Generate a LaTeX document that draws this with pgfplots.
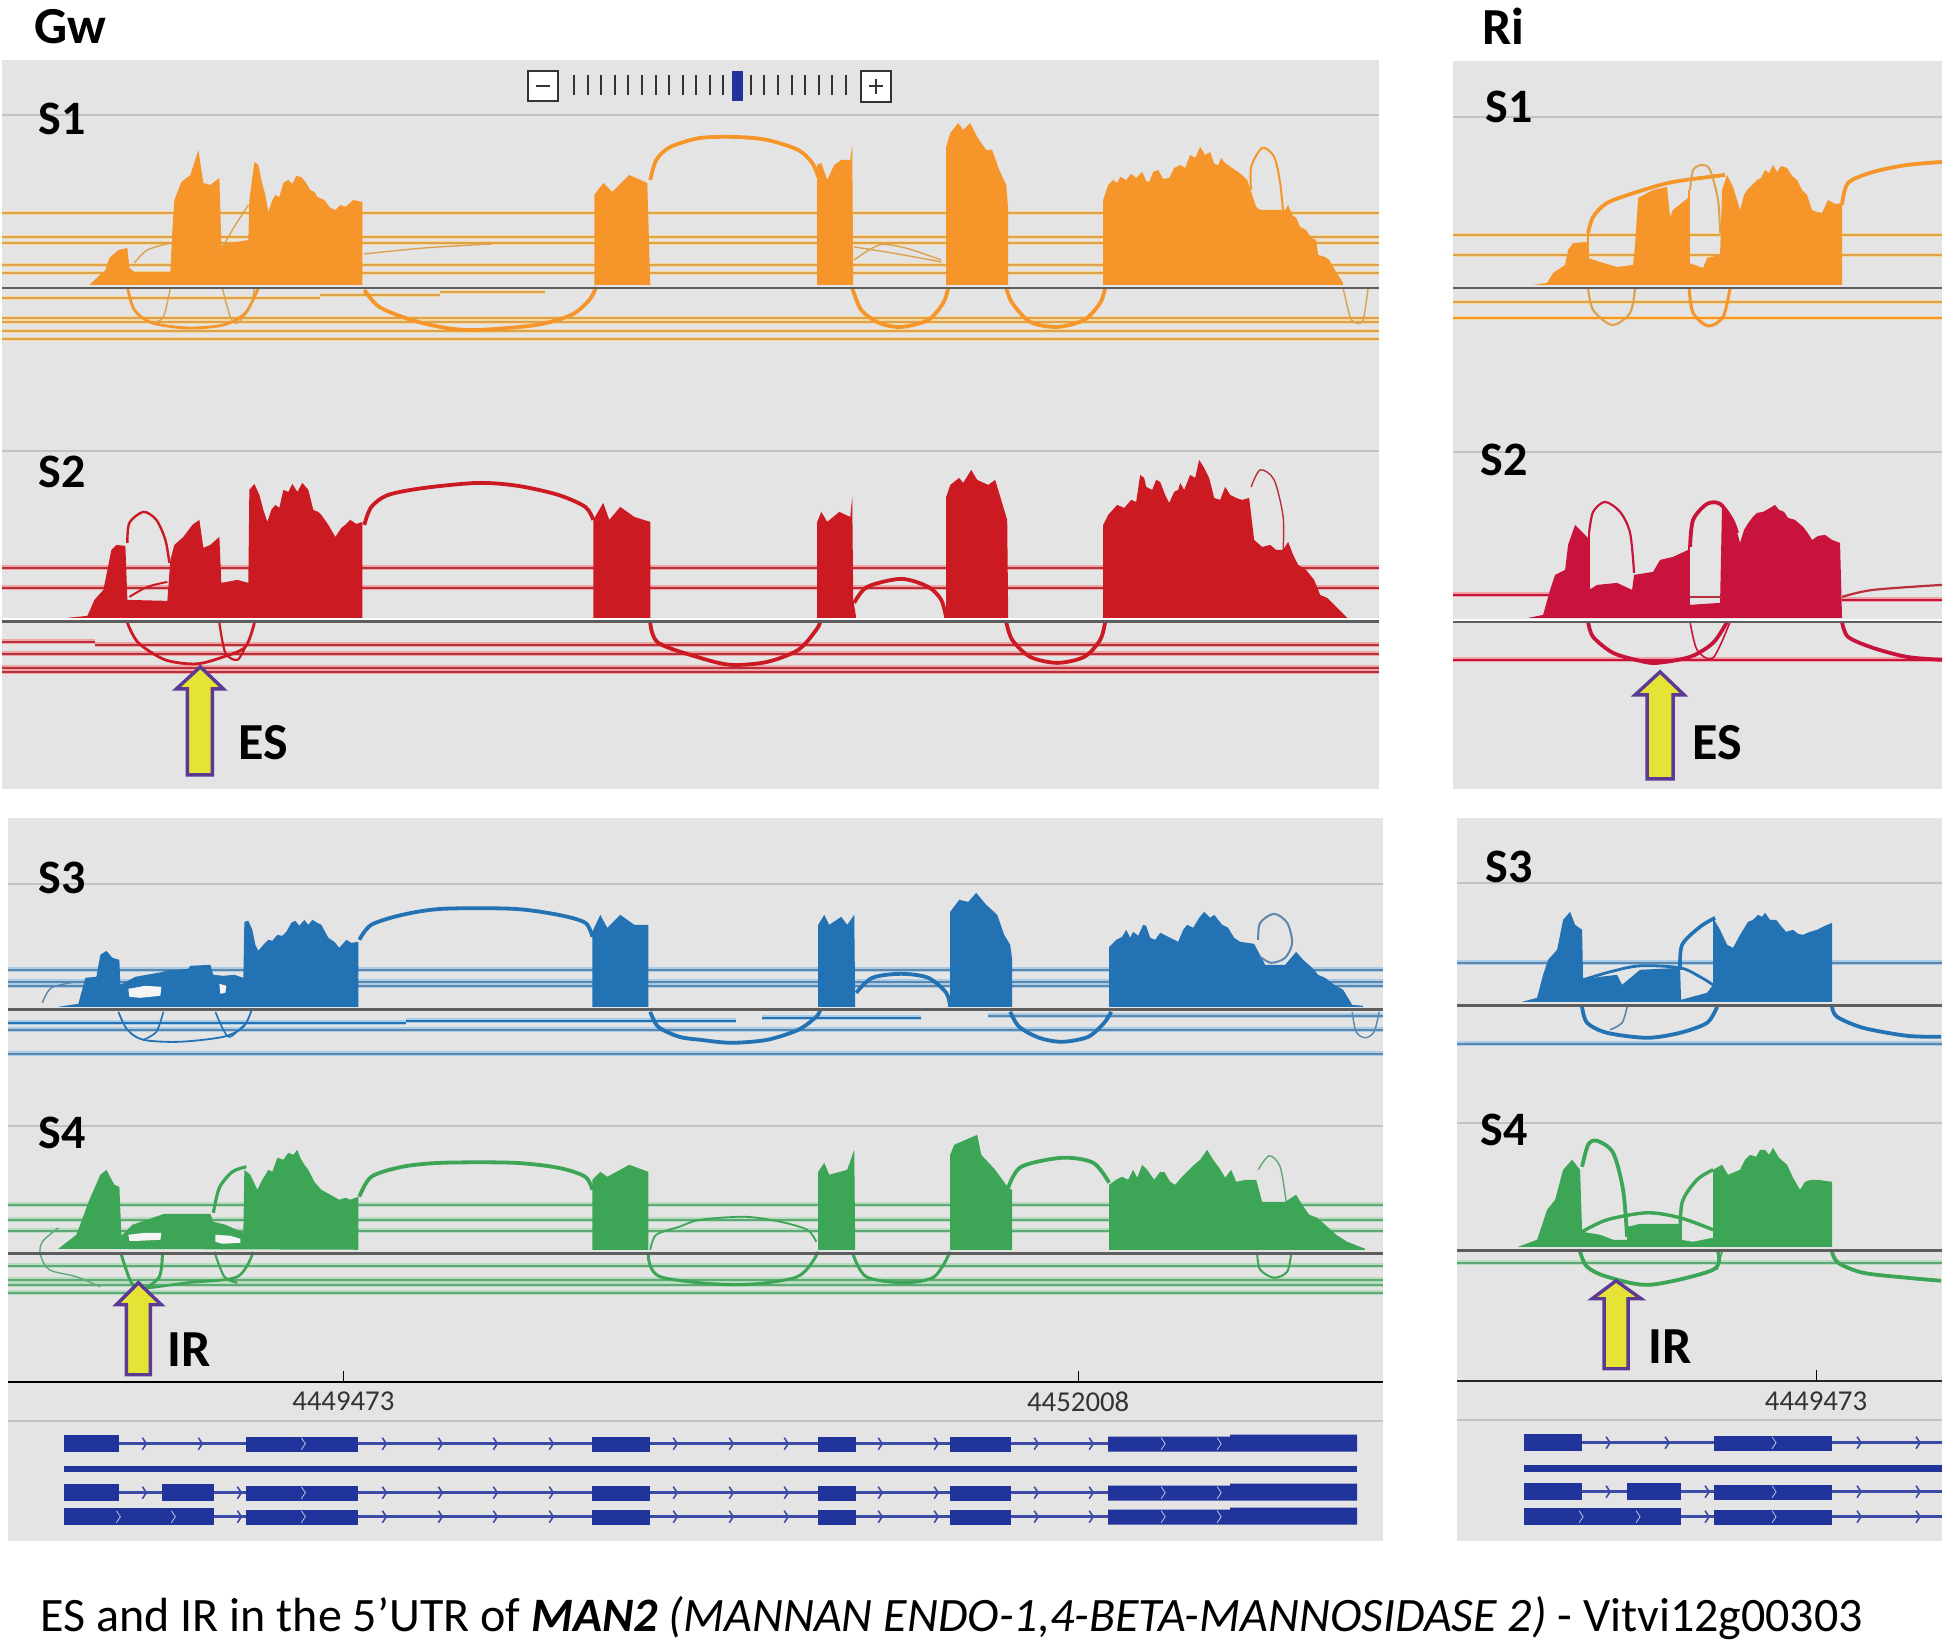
\documentclass[border=0pt]{standalone}
\usepackage{pgfplots}
\usepackage{fontspec}
\setmainfont{Carlito}
\pgfplotsset{compat=1.18}
\definecolor{pbg}{HTML}{E4E4E4}
\definecolor{holec}{HTML}{F4F4F4}
\definecolor{sepc}{HTML}{C2C2C2}
\definecolor{base}{HTML}{5E5E5E}
\definecolor{oc}{HTML}{F5952A}
\definecolor{ol}{HTML}{F6D79E}
\definecolor{od}{HTML}{DDA24E}
\definecolor{rc}{HTML}{CC1A22}
\definecolor{rl}{HTML}{EFA5A5}
\definecolor{rd}{HTML}{B8303C}
\definecolor{cc}{HTML}{C8143C}
\definecolor{bc}{HTML}{2272B4}
\definecolor{bl}{HTML}{A9CCE8}
\definecolor{bd}{HTML}{5C86AC}
\definecolor{gc}{HTML}{3DA556}
\definecolor{gl}{HTML}{B8DDBE}
\definecolor{gd}{HTML}{5FA877}
\definecolor{ex}{HTML}{20349C}
\definecolor{intr}{HTML}{3E4AA8}
\definecolor{arrf}{HTML}{E6E337}
\definecolor{arrd}{HTML}{5B3A94}
\pgfdeclareplotmark{chev}{\pgfpathmoveto{\pgfqpoint{-1pt}{3pt}}\pgfpathlineto{\pgfqpoint{1pt}{0pt}}\pgfpathlineto{\pgfqpoint{-1pt}{-3pt}}\pgfusepathqstroke}
\newcommand{\cov}[2]{\addplot[fill=#1,draw=none] coordinates {#2} -- cycle;}
\newcommand{\jn}[3]{\addplot[#1,line width=#2,smooth] coordinates {#3};}
\newcommand{\hl}[5]{\addplot[#1,line width=2.4pt] coordinates {(#4,#3)(#5,#3)};\addplot[#2,line width=1.1pt] coordinates {(#4,#3)(#5,#3)};}
\newcommand{\seg}[4]{\addplot[#1,line width=#2] coordinates {(#3)(#4)};}
\begin{document}
\begin{tikzpicture}
\begin{axis}[at={(0,0)},anchor=south west,scale only axis,width=976.5pt,height=822pt,
 xmin=0,xmax=1953,ymin=0,ymax=1644,y dir=reverse,hide axis,clip=false]
% page and panels
\cov{white}{(0,0)(1953,0)(1953,1644)(0,1644)}
\cov{pbg}{(2,60)(1379,60)(1379,789)(2,789)}
\cov{pbg}{(1453,61)(1942,61)(1942,789)(1453,789)}
\cov{pbg}{(8,818)(1383,818)(1383,1541)(8,1541)}
\cov{pbg}{(1457,818)(1942,818)(1942,1541)(1457,1541)}
% separators
\seg{sepc}{1.2pt}{2,115}{1379,115}
\seg{sepc}{1.2pt}{2,451}{1379,451}
\seg{sepc}{1.2pt}{8,884}{1383,884}
\seg{sepc}{1.2pt}{8,1126}{1383,1126}
\seg{sepc}{1.2pt}{8,1421}{1383,1421}
\seg{sepc}{1.2pt}{1453,117}{1942,117}
\seg{sepc}{1.2pt}{1453,452}{1942,452}
\seg{sepc}{1.2pt}{1457,883}{1942,883}
\seg{sepc}{1.2pt}{1457,1123}{1942,1123}
\seg{sepc}{1.2pt}{1457,1420}{1942,1420}
% zoom widget
\addplot[fill=white,draw=black!80,line width=1pt] coordinates {(528,71)(558,71)(558,101)(528,101)} -- cycle;
\addplot[fill=white,draw=black!80,line width=1pt] coordinates {(861,71)(891,71)(891,102)(861,102)} -- cycle;
\seg{black!80}{0.9pt}{536,86}{550,86}
\seg{black!80}{0.9pt}{869,86}{883,86}
\seg{black!80}{0.9pt}{876,79}{876,94}
\addplot[only marks,mark=|,mark size=5pt,mark options={draw=black!80,line width=0.9pt}] coordinates {(574,85)(588,85)(601,85)(615,85)(628,85)(642,85)(656,85)(669,85)(683,85)(696,85)(710,85)(723,85)(751,85)(764,85)(778,85)(792,85)(805,85)(819,85)(832,85)(846,85)};
\cov{ex}{(732,71)(743,71)(743,101)(732,101)}
% ---------- Gw S1 ----------
\hl{ol}{od}{213}{2}{1379}\hl{ol}{od}{237}{2}{1379}\hl{ol}{od}{243}{2}{1379}\hl{ol}{od}{265}{2}{1379}\hl{ol}{od}{273}{2}{1379}
\hl{ol}{od}{298}{2}{320}\hl{ol}{od}{295}{320}{440}\hl{ol}{od}{292}{440}{545}\hl{ol}{od}{318}{2}{1379}\hl{ol}{od}{322}{2}{1379}\hl{ol}{od}{331}{2}{1379}\hl{ol}{od}{339}{2}{1379}
\cov{oc}{(89,285)(105,270)(109,258)(118,250)(127,248)(129,268)(134,272)(170,272)(172,230)(174,200)(181,182)(190,175)(198,150)(203,183)(210,185)(219,178)(221,245)(248,240)(249,200)(254,162)(258,165)(261,180)(265,195)(268,212)(272,200)(275,195)(279,197)(283,183)(288,180)(292,184)(296,176)(301,177)(305,182)(310,190)(314,192)(317,197)(324,200)(330,208)(335,210)(340,205)(345,207)(353,200)(362,202)(362,285)}
\cov{oc}{(594,285)(594,195)(603,183)(612,192)(629,175)(647,183)(650,285)}
\cov{oc}{(817,285)(817,165)(821,163)(827,180)(834,165)(841,160)(850,160)(852,145)(853,285)}
\cov{oc}{(946,285)(946,147)(950,133)(958,123)(963,130)(970,123)(977,137)(986,150)(992,150)(999,170)(1006,185)(1008,210)(1008,285)}
\cov{oc}{(1103,285)(1103,200)(1108,185)(1113,180)(1117,183)(1120,177)(1126,180)(1131,174)(1136,178)(1142,172)(1146,181)(1149,182)(1153,172)(1158,170)(1163,179)(1169,178)(1174,168)(1180,165)(1185,168)(1190,155)(1195,158)(1200,147)(1205,155)(1210,152)(1214,164)(1218,165)(1221,158)(1225,163)(1232,168)(1238,172)(1243,176)(1247,180)(1252,195)(1256,207)(1260,210)(1285,210)(1288,205)(1292,215)(1296,218)(1300,227)(1306,230)(1311,238)(1316,240)(1318,255)(1325,257)(1329,260)(1336,272)(1343,283)(1343,285)}
\jn{oc}{1.9pt}{(650,180)(656,160)(670,147)(700,138)(736,137)(767,140)(798,150)(812,163)(818,177)}
\jn{oc}{1.9pt}{(364,290)(379,307)(411,320)(446,328)(478,330)(536,325)(571,315)(589,300)(596,287)}
\jn{oc}{1.4pt}{(127,287)(134,310)(152,323)(187,328)(223,325)(245,313)(258,288)}
\jn{od}{0.7pt}{(170,288)(163,317)(152,323)}
\jn{od}{0.7pt}{(222,288)(230,317)(237,323)(250,307)(254,288)}
\jn{od}{0.7pt}{(134,263)(147,250)(170,243)}
\jn{od}{0.7pt}{(221,250)(232,230)(248,205)}
\jn{od}{0.7pt}{(364,254)(424,248)(491,244)}
\jn{od}{0.7pt}{(854,260)(879,245)(905,248)(941,260)}
\jn{od}{0.7pt}{(854,247)(892,253)(941,262)}
\jn{oc}{1.9pt}{(852,288)(861,310)(879,323)(901,327)(928,320)(943,303)(948,288)}
\jn{oc}{1.9pt}{(1006,288)(1012,303)(1030,322)(1057,327)(1084,320)(1100,303)(1105,288)}
\jn{od}{0.7pt}{(1343,288)(1350,317)(1356,323)(1363,320)(1368,288)}
\jn{oc}{1pt}{(1251,190)(1251,167)(1262,148)(1274,157)(1280,183)(1283,213)}
\seg{base}{1.4pt}{2,288}{1379,288}
% ---------- Gw S2 ----------
\hl{rl}{rd}{568}{2}{1379}\hl{rl}{rd}{588}{2}{1379}
\hl{rl}{rd}{642}{2}{95}\hl{rl}{rd}{645}{95}{1379}\hl{rl}{rd}{654}{2}{1379}\hl{rl}{rd}{668}{2}{1379}\hl{rl}{rd}{672}{2}{1379}
\seg{white}{1.5pt}{2,620}{1379,620}
\cov{rc}{(67,618)(87,616)(94,600)(103,590)(107,570)(111,550)(116,545)(125,546)(127,600)(167,601)(170,560)(174,545)(183,537)(192,525)(199,520)(203,548)(210,545)(219,537)(221,583)(237,580)(248,583)(249,490)(254,484)(259,495)(263,510)(267,522)(271,510)(275,505)(279,508)(283,490)(288,492)(292,484)(297,492)(302,483)(308,490)(313,510)(318,512)(321,515)(328,525)(335,537)(341,528)(345,525)(350,520)(356,524)(362,522)(362,618)}
\cov{rc}{(593,618)(593,520)(603,503)(609,520)(620,507)(634,517)(650,522)(650,618)}
\cov{rc}{(817,618)(817,522)(821,512)(827,522)(839,512)(850,517)(852,497)(853,600)(856,618)}
\cov{rc}{(946,618)(946,497)(950,485)(959,478)(963,483)(971,470)(977,480)(988,485)(995,480)(1001,500)(1007,520)(1008,618)}
\cov{rc}{(1103,618)(1103,525)(1108,515)(1117,505)(1124,508)(1131,500)(1136,502)(1140,475)(1144,478)(1146,487)(1152,490)(1156,480)(1160,482)(1165,495)(1169,503)(1174,492)(1178,490)(1180,483)(1184,490)(1190,475)(1195,478)(1199,460)(1204,468)(1209,478)(1214,498)(1220,500)(1225,487)(1230,495)(1236,498)(1242,500)(1249,498)(1254,540)(1262,547)(1270,545)(1276,550)(1283,550)(1288,542)(1293,555)(1298,565)(1306,570)(1314,580)(1320,595)(1327,598)(1334,605)(1347,618)}
\jn{rc}{1.9pt}{(364,525)(371,507)(388,495)(424,488)(478,483)(518,486)(558,495)(585,507)(593,520)}
\jn{rc}{1.2pt}{(127,543)(129,523)(143,512)(156,520)(165,540)(169,563)}
\jn{rc}{1pt}{(129,597)(147,587)(167,582)}
\jn{rc}{1.4pt}{(127,623)(138,643)(165,660)(196,664)(223,657)(245,647)(254,623)}
\jn{rc}{1.1pt}{(219,623)(225,653)(237,660)(245,647)}
\jn{rc}{1.9pt}{(650,623)(658,643)(700,658)(731,665)(767,662)(798,650)(816,630)(820,622)}
\jn{rc}{1.9pt}{(854,603)(867,587)(901,579)(928,587)(941,600)(946,618)}
\jn{rc}{1.9pt}{(1006,622)(1012,640)(1030,657)(1057,663)(1084,657)(1100,640)(1105,622)}
\jn{rd}{0.7pt}{(1251,487)(1260,470)(1274,480)(1283,517)(1283,550)}
\seg{base}{1.4pt}{2,622}{1379,622}
% ---------- Gw S3 ----------
\hl{bl}{bd}{970}{8}{1383}\hl{bl}{bd}{982}{8}{1383}\hl{bl}{bd}{986}{8}{1383}
\hl{bl}{bc}{1023}{8}{406}\hl{bl}{bc}{1021}{406}{736}\hl{bl}{bc}{1018}{762}{921}\hl{bl}{bd}{1016}{988}{1383}\hl{bl}{bd}{1030}{8}{1383}\hl{bl}{bd}{1054}{8}{1383}
\cov{bc}{(58,1007)(78,1004)(85,978)(96,977)(100,955)(106,951)(112,958)(119,960)(120,985)(135,977)(163,972)(164,971)(188,969)(190,966)(210,965)(213,975)(223,976)(234,975)(243,978)(244,922)(248,921)(252,930)(255,945)(258,951)(263,945)(268,940)(272,941)(277,935)(282,936)(286,932)(291,923)(295,921)(299,926)(304,920)(308,925)(312,920)(317,923)(321,925)(328,938)(334,942)(339,948)(346,940)(351,943)(358,942)(358,1007)}
\cov{holec}{(128,989)(145,986)(161,987)(160,996)(140,998)(129,997)}
\cov{holec}{(219,984)(226,986)(225,993)(220,994)}
\cov{bc}{(592,1007)(592,932)(600,915)(607,928)(620,915)(634,925)(648,925)(648,1007)}
\cov{bc}{(818,1007)(818,925)(824,915)(829,925)(841,917)(847,925)(854,915)(855,1007)}
\cov{bc}{(950,1007)(950,912)(959,900)(968,902)(976,893)(986,905)(997,915)(1004,935)(1010,945)(1012,960)(1012,1007)}
\cov{bc}{(1109,1007)(1109,947)(1116,940)(1122,937)(1126,930)(1130,938)(1133,932)(1138,936)(1143,925)(1146,926)(1150,938)(1155,940)(1160,933)(1164,935)(1170,938)(1178,942)(1183,930)(1187,925)(1193,928)(1199,918)(1204,912)(1210,918)(1214,915)(1222,925)(1228,928)(1234,938)(1240,942)(1254,944)(1265,965)(1285,965)(1296,952)(1303,960)(1312,968)(1318,975)(1325,978)(1334,985)(1343,990)(1352,1005)(1363,1006)(1363,1007)}
\jn{bc}{1.9pt}{(359,940)(371,925)(402,915)(442,909)(513,909)(558,915)(585,923)(592,937)}
\jn{bc}{1.9pt}{(856,993)(872,978)(901,974)(928,978)(946,993)(950,1007)}
\jn{bd}{0.7pt}{(42,1003)(51,988)(76,982)}
\jn{bc}{0.9pt}{(118,1012)(127,1030)(143,1040)(179,1042)(223,1037)(243,1027)(251,1011)}
\jn{bc}{0.8pt}{(163,1012)(156,1032)(143,1040)}
\jn{bc}{0.8pt}{(215,1012)(223,1030)(230,1037)(246,1023)}
\jn{bc}{1.9pt}{(650,1012)(658,1027)(679,1037)(700,1040)(731,1043)(767,1040)(798,1030)(816,1017)(820,1010)}
\jn{bc}{1.9pt}{(1010,1012)(1019,1027)(1039,1038)(1062,1042)(1088,1037)(1104,1023)(1111,1012)}
\jn{bd}{1pt}{(1258,940)(1260,923)(1274,914)(1287,923)(1292,943)(1285,958)(1271,963)(1260,957)}
\jn{bd}{0.7pt}{(1352,1012)(1356,1032)(1365,1038)(1374,1032)(1379,1012)}
\seg{base}{1.4pt}{8,1010}{1383,1010}
% ---------- Gw S4 ----------
\hl{gl}{gd}{1205}{8}{1383}\hl{gl}{gd}{1220}{8}{1383}\hl{gl}{gd}{1231}{8}{1383}\hl{gl}{gd}{1266}{8}{1383}\hl{gl}{gd}{1280}{8}{1383}\hl{gl}{gd}{1285}{8}{1383}\hl{gl}{gd}{1293}{8}{1383}
\cov{gc}{(58,1249)(76,1235)(89,1200)(100,1175)(106,1170)(114,1185)(119,1187)(121,1236)(132,1225)(164,1214)(210,1214)(213,1222)(225,1225)(243,1233)(244,1170)(250,1175)(257,1190)(262,1180)(268,1170)(272,1172)(277,1158)(283,1160)(288,1153)(293,1155)(297,1150)(300,1158)(304,1165)(308,1170)(314,1182)(321,1190)(330,1195)(339,1200)(345,1198)(350,1200)(358,1197)(358,1250)}
\cov{holec}{(128,1235)(145,1233)(161,1233)(160,1240)(140,1241)(129,1241)}
\cov{holec}{(215,1235)(230,1236)(240,1239)(240,1243)(222,1244)(215,1242)}
\cov{gc}{(592,1250)(592,1180)(600,1172)(607,1177)(629,1165)(648,1172)(648,1250)}
\cov{gc}{(818,1250)(818,1172)(824,1163)(829,1175)(847,1170)(854,1150)(855,1250)}
\cov{gc}{(950,1250)(950,1155)(954,1145)(977,1135)(981,1155)(995,1170)(1008,1188)(1012,1190)(1012,1250)}
\cov{gc}{(1109,1250)(1109,1185)(1116,1180)(1122,1177)(1128,1180)(1133,1170)(1137,1178)(1142,1165)(1147,1170)(1154,1180)(1160,1172)(1164,1172)(1170,1182)(1175,1185)(1181,1178)(1187,1172)(1194,1165)(1200,1160)(1207,1150)(1213,1160)(1219,1168)(1225,1178)(1231,1170)(1236,1182)(1246,1180)(1256,1180)(1262,1202)(1285,1202)(1296,1195)(1302,1205)(1309,1215)(1317,1218)(1325,1225)(1336,1235)(1347,1242)(1365,1249)(1365,1250)}
\jn{gc}{1.9pt}{(359,1197)(371,1177)(402,1167)(442,1163)(513,1163)(558,1168)(585,1177)(592,1190)}
\jn{gc}{1.6pt}{(213,1213)(219,1188)(232,1172)(246,1167)}
\jn{gd}{0.7pt}{(58,1228)(42,1242)(40,1255)(49,1270)(76,1277)(100,1287)}
\jn{gc}{1.5pt}{(121,1255)(131,1283)(143,1289)(159,1277)(162,1255)}
\jn{gc}{1.3pt}{(143,1289)(187,1283)(237,1277)(253,1252)}
\jn{gc}{1.1pt}{(214,1252)(224,1277)(237,1283)}
\jn{gc}{1.5pt}{(648,1255)(660,1277)(735,1285)(797,1277)(818,1252)}
\jn{gc}{0.9pt}{(650,1250)(656,1235)(679,1227)(700,1220)(745,1217)(780,1222)(807,1230)(816,1242)}
\jn{gc}{1.5pt}{(853,1255)(866,1277)(903,1283)(934,1277)(950,1252)}
\jn{gc}{1.9pt}{(1008,1188)(1021,1167)(1062,1158)(1093,1163)(1109,1183)}
\jn{gd}{0.7pt}{(1258,1170)(1269,1156)(1280,1167)(1286,1202)}
\jn{gc}{1pt}{(1257,1254)(1260,1270)(1274,1278)(1287,1272)(1291,1254)}
\seg{base}{1.4pt}{8,1254}{1383,1254}
% ---------- Ri S1 ----------
\hl{ol}{od}{235}{1453}{1942}\hl{ol}{od}{255}{1453}{1942}\hl{ol}{od}{302}{1453}{1942}\hl{ol}{oc}{318}{1453}{1942}
\cov{oc}{(1533,285)(1547,283)(1553,273)(1565,265)(1568,250)(1573,243)(1587,242)(1588,258)(1600,262)(1617,267)(1633,265)(1635,245)(1638,198)(1653,190)(1667,187)(1670,217)(1673,210)(1688,198)(1689,263)(1703,268)(1707,258)(1720,255)(1722,190)(1727,175)(1733,187)(1740,210)(1744,195)(1747,190)(1752,185)(1757,180)(1761,178)(1765,170)(1769,173)(1773,165)(1777,172)(1781,166)(1787,168)(1792,176)(1797,180)(1802,190)(1807,195)(1812,210)(1817,212)(1822,213)(1828,200)(1835,204)(1842,203)(1842,285)}
\jn{oc}{1.9pt}{(1588,233)(1593,217)(1607,203)(1637,192)(1673,182)(1725,175)}
\jn{oc}{1.9pt}{(1842,205)(1848,183)(1873,172)(1907,165)(1942,162)}
\jn{od}{1pt}{(1690,190)(1693,170)(1702,165)(1710,170)(1718,200)(1720,233)}
\seg{oc}{1.4pt}{1689,190}{1689,263}
\seg{oc}{1.4pt}{1588,233}{1588,258}
\jn{od}{1.1pt}{(1588,288)(1593,310)(1612,325)(1630,313)(1635,288)}
\jn{oc}{1.5pt}{(1689,288)(1693,313)(1708,326)(1723,317)(1730,288)}
\seg{base}{1.4pt}{1453,288}{1942,288}
% ---------- Ri S2 ----------
\hl{rl}{cc}{595}{1453}{1550}\hl{rl}{cc}{660}{1453}{1942}\hl{rl}{cc}{600}{1842}{1942}
\seg{white}{1.2pt}{1453,620}{1942,620}
\cov{cc}{(1528,618)(1543,615)(1550,590)(1555,575)(1565,570)(1568,545)(1575,525)(1580,530)(1588,538)(1589,590)(1597,585)(1617,583)(1632,590)(1634,575)(1653,572)(1660,560)(1673,557)(1688,550)(1689,605)(1720,603)(1722,505)(1730,515)(1735,525)(1740,543)(1744,530)(1747,525)(1752,518)(1757,513)(1763,512)(1770,508)(1775,505)(1779,510)(1784,512)(1788,518)(1795,520)(1803,527)(1807,532)(1812,540)(1818,536)(1825,535)(1832,540)(1840,543)(1842,618)}
\jn{cc}{1.1pt}{(1589,533)(1593,512)(1605,502)(1620,512)(1630,533)(1634,573)}
\jn{cc}{1.9pt}{(1690,547)(1693,520)(1707,504)(1720,504)(1732,520)(1737,533)}
\seg{cc}{1.4pt}{1589,533}{1589,590}
\seg{cc}{1.4pt}{1689,547}{1689,605}
\seg{rd}{0.8pt}{1689,597}{1722,597}
\jn{cc}{1.9pt}{(1588,622)(1593,637)(1613,653)(1640,661)(1657,663)(1690,657)(1713,643)(1727,622)}
\jn{cc}{0.8pt}{(1690,622)(1697,650)(1713,658)(1730,622)}
\jn{cc}{1.9pt}{(1842,622)(1848,637)(1873,648)(1907,657)(1942,660)}
\jn{rd}{1.1pt}{(1842,597)(1873,590)(1942,585)}
\seg{base}{1.2pt}{1453,622}{1942,622}
% ---------- Ri S3 ----------
\hl{bl}{bd}{963}{1457}{1942}\hl{bl}{bd}{1044}{1457}{1942}
\cov{bc}{(1522,1002)(1537,998)(1543,975)(1548,960)(1557,950)(1563,920)(1570,912)(1575,925)(1582,930)(1583,980)(1600,977)(1617,975)(1622,985)(1640,970)(1680,968)(1681,1000)(1707,993)(1713,985)(1713,918)(1720,930)(1727,945)(1733,948)(1740,935)(1748,922)(1753,920)(1758,915)(1762,917)(1765,913)(1770,920)(1776,920)(1780,925)(1786,932)(1793,930)(1798,934)(1803,935)(1810,932)(1817,930)(1825,926)(1832,923)(1832,1002)}
\jn{bc}{1.8pt}{(1680,970)(1682,945)(1700,927)(1715,918)}
\jn{bc}{1.4pt}{(1583,980)(1610,972)(1640,966)(1680,968)(1700,977)(1713,985)}
\jn{bc}{1.9pt}{(1582,1007)(1587,1023)(1607,1033)(1647,1038)(1680,1033)(1707,1023)(1717,1007)}
\jn{bd}{0.8pt}{(1627,1007)(1622,1023)(1610,1030)}
\jn{bc}{1.9pt}{(1832,1007)(1837,1017)(1863,1028)(1907,1036)(1941,1037)}
\seg{base}{1.4pt}{1457,1006}{1942,1006}
% ---------- Ri S4 ----------
\hl{gl}{gd}{1263}{1457}{1942}
\cov{gc}{(1518,1247)(1537,1240)(1547,1210)(1555,1200)(1563,1170)(1572,1160)(1580,1170)(1582,1232)(1600,1235)(1613,1240)(1627,1240)(1628,1227)(1640,1224)(1680,1224)(1681,1240)(1693,1242)(1713,1238)(1713,1170)(1722,1165)(1728,1175)(1740,1170)(1745,1160)(1750,1155)(1756,1157)(1760,1150)(1765,1150)(1769,1155)(1773,1148)(1779,1158)(1787,1165)(1793,1178)(1800,1190)(1805,1182)(1811,1180)(1817,1180)(1832,1182)(1832,1247)}
\jn{gc}{1.9pt}{(1582,1167)(1588,1145)(1597,1141)(1613,1153)(1623,1190)(1627,1237)}
\jn{gc}{1.7pt}{(1582,1232)(1607,1220)(1647,1213)(1680,1218)(1713,1230)}
\jn{gc}{1.7pt}{(1680,1243)(1682,1203)(1697,1180)(1713,1170)}
\jn{gc}{1.9pt}{(1580,1252)(1587,1267)(1607,1277)(1650,1285)(1713,1270)(1718,1252)}
\jn{gc}{0.8pt}{(1722,1252)(1717,1270)}
\jn{gc}{1.9pt}{(1832,1252)(1838,1263)(1863,1273)(1907,1278)(1941,1281)}
\seg{base}{1.4pt}{1457,1251}{1942,1251}
% ---------- arrows ----------
\addplot[fill=arrf,draw=arrd,line width=1.7pt,line join=miter] coordinates {(200,667)(223,689)(212,689)(212,775)(187,775)(187,689)(176,689)} -- cycle;
\addplot[fill=arrf,draw=arrd,line width=1.7pt,line join=miter] coordinates {(1660,672)(1684,695)(1673,695)(1673,779)(1647,779)(1647,695)(1635,695)} -- cycle;
\addplot[fill=arrf,draw=arrd,line width=1.7pt,line join=miter] coordinates {(138,1283)(161,1305)(150,1305)(150,1375)(126,1375)(126,1305)(116,1305)} -- cycle;
\addplot[fill=arrf,draw=arrd,line width=1.7pt,line join=miter] coordinates {(1616,1281)(1641,1299)(1628,1299)(1628,1369)(1604,1369)(1604,1299)(1592,1299)} -- cycle;
% ---------- position axes ----------
\seg{black}{1.1pt}{8,1382}{1383,1382}
\seg{black}{0.5pt}{343,1371}{343,1382}
\seg{black}{0.5pt}{1078,1371}{1078,1382}
\seg{black!85}{1.1pt}{1457,1381}{1942,1381}
\seg{black}{0.5pt}{1816,1370}{1816,1381}
% ---------- Gw gene models ----------
\seg{intr}{1.4pt}{64,1444}{1357,1444}
\seg{intr}{1.4pt}{64,1493}{1357,1493}
\seg{intr}{1.4pt}{64,1517}{1357,1517}
\addplot[only marks,mark=chev,mark options={draw=intr,line width=0.8pt}] coordinates {(144,1444)(200,1444)(384,1444)(440,1444)(495,1444)(551,1444)(675,1444)(731,1444)(786,1444)(880,1444)(936,1444)(1036,1444)(1091,1444)
(144,1493)(239,1493)(384,1493)(440,1493)(495,1493)(551,1493)(675,1493)(731,1493)(786,1493)(880,1493)(936,1493)(1036,1493)(1091,1493)
(239,1517)(384,1517)(440,1517)(495,1517)(551,1517)(675,1517)(731,1517)(786,1517)(880,1517)(936,1517)(1036,1517)(1091,1517)};
\cov{ex}{(64,1435)(119,1435)(119,1452)(64,1452)}
\cov{ex}{(64,1466)(1357,1466)(1357,1472)(64,1472)}
\cov{ex}{(64,1484)(119,1484)(119,1501)(64,1501)}
\cov{ex}{(162,1484)(214,1484)(214,1501)(162,1501)}
\cov{ex}{(64,1508)(214,1508)(214,1525)(64,1525)}
\cov{ex}{(246,1437)(358,1437)(358,1452)(246,1452)}
\cov{ex}{(592,1437)(650,1437)(650,1452)(592,1452)}
\cov{ex}{(818,1437)(856,1437)(856,1452)(818,1452)}
\cov{ex}{(950,1437)(1011,1437)(1011,1452)(950,1452)}
\cov{ex}{(1108,1437)(1230,1437)(1230,1435)(1357,1435)(1357,1452)(1108,1452)}
\cov{ex}{(246,1486)(358,1486)(358,1501)(246,1501)}
\cov{ex}{(592,1486)(650,1486)(650,1501)(592,1501)}
\cov{ex}{(818,1486)(856,1486)(856,1501)(818,1501)}
\cov{ex}{(950,1486)(1011,1486)(1011,1501)(950,1501)}
\cov{ex}{(1108,1486)(1230,1486)(1230,1484)(1357,1484)(1357,1501)(1108,1501)}
\cov{ex}{(246,1510)(358,1510)(358,1525)(246,1525)}
\cov{ex}{(592,1510)(650,1510)(650,1525)(592,1525)}
\cov{ex}{(818,1510)(856,1510)(856,1525)(818,1525)}
\cov{ex}{(950,1510)(1011,1510)(1011,1525)(950,1525)}
\cov{ex}{(1108,1510)(1230,1510)(1230,1508)(1357,1508)(1357,1525)(1108,1525)}
\addplot[only marks,mark=chev,mark options={draw=white!70!ex,line width=0.4pt}] coordinates {(303,1444)(1163,1444)(1219,1444)(303,1493)(1163,1493)(1219,1493)(118,1517)(173,1517)(303,1517)(1163,1517)(1219,1517)};
% ---------- Ri gene models ----------
\seg{intr}{1.4pt}{1524,1443}{1942,1443}
\seg{intr}{1.4pt}{1524,1492}{1942,1492}
\seg{intr}{1.4pt}{1524,1517}{1942,1517}
\addplot[only marks,mark=chev,mark options={draw=intr,line width=0.8pt}] coordinates {(1608,1443)(1667,1443)(1859,1443)(1918,1443)(1608,1492)(1707,1492)(1859,1492)(1918,1492)(1707,1517)(1859,1517)(1918,1517)};
\cov{ex}{(1524,1434)(1582,1434)(1582,1451)(1524,1451)}
\cov{ex}{(1524,1465)(1942,1465)(1942,1472)(1524,1472)}
\cov{ex}{(1524,1483)(1582,1483)(1582,1500)(1524,1500)}
\cov{ex}{(1627,1483)(1681,1483)(1681,1500)(1627,1500)}
\cov{ex}{(1524,1508)(1681,1508)(1681,1525)(1524,1525)}
\cov{ex}{(1714,1436)(1832,1436)(1832,1451)(1714,1451)}
\cov{ex}{(1714,1485)(1832,1485)(1832,1500)(1714,1500)}
\cov{ex}{(1714,1510)(1832,1510)(1832,1525)(1714,1525)}
\addplot[only marks,mark=chev,mark options={draw=white!70!ex,line width=0.4pt}] coordinates {(1774,1443)(1774,1492)(1581,1517)(1638,1517)(1774,1517)};
% ---------- text ----------
\node[font=\fontsize{26}{28}\selectfont\bfseries] at (axis cs:70,27) {Gw};
\node[font=\fontsize{26}{28}\selectfont\bfseries] at (axis cs:1503,26) {Ri};
\node[font=\fontsize{24}{26}\selectfont\bfseries] at (axis cs:62,119) {S1};
\node[font=\fontsize{24}{26}\selectfont\bfseries] at (axis cs:62,472) {S2};
\node[font=\fontsize{24}{26}\selectfont\bfseries] at (axis cs:62,878) {S3};
\node[font=\fontsize{24}{26}\selectfont\bfseries] at (axis cs:62,1133) {S4};
\node[font=\fontsize{24}{26}\selectfont\bfseries] at (axis cs:1509,107) {S1};
\node[font=\fontsize{24}{26}\selectfont\bfseries] at (axis cs:1504,460) {S2};
\node[font=\fontsize{24}{26}\selectfont\bfseries] at (axis cs:1509,867) {S3};
\node[font=\fontsize{24}{26}\selectfont\bfseries] at (axis cs:1504,1130) {S4};
\node[font=\fontsize{26}{28}\selectfont\bfseries] at (axis cs:263,743) {ES};
\node[font=\fontsize{26}{28}\selectfont\bfseries] at (axis cs:1717,743) {ES};
\node[font=\fontsize{26}{28}\selectfont\bfseries] at (axis cs:189,1350) {IR};
\node[font=\fontsize{26}{28}\selectfont\bfseries] at (axis cs:1670,1347) {IR};
\node[font=\fontsize{14.4}{16}\selectfont,text=black!80] at (axis cs:343,1402) {4449473};
\node[font=\fontsize{14.4}{16}\selectfont,text=black!80] at (axis cs:1078,1402) {4452008};
\node[font=\fontsize{14.4}{16}\selectfont,text=black!80] at (axis cs:1816,1402) {4449473};
\node[anchor=west,inner sep=0pt,font=\fontsize{24}{25}\selectfont] at (axis cs:40,1618) {ES and IR in the 5’UTR of \textbf{\textit{MAN2}} \textit{(MANNAN ENDO-1,4-BETA-MANNOSIDASE 2)} - Vitvi12g00303};
\end{axis}
\end{tikzpicture}
\end{document}
